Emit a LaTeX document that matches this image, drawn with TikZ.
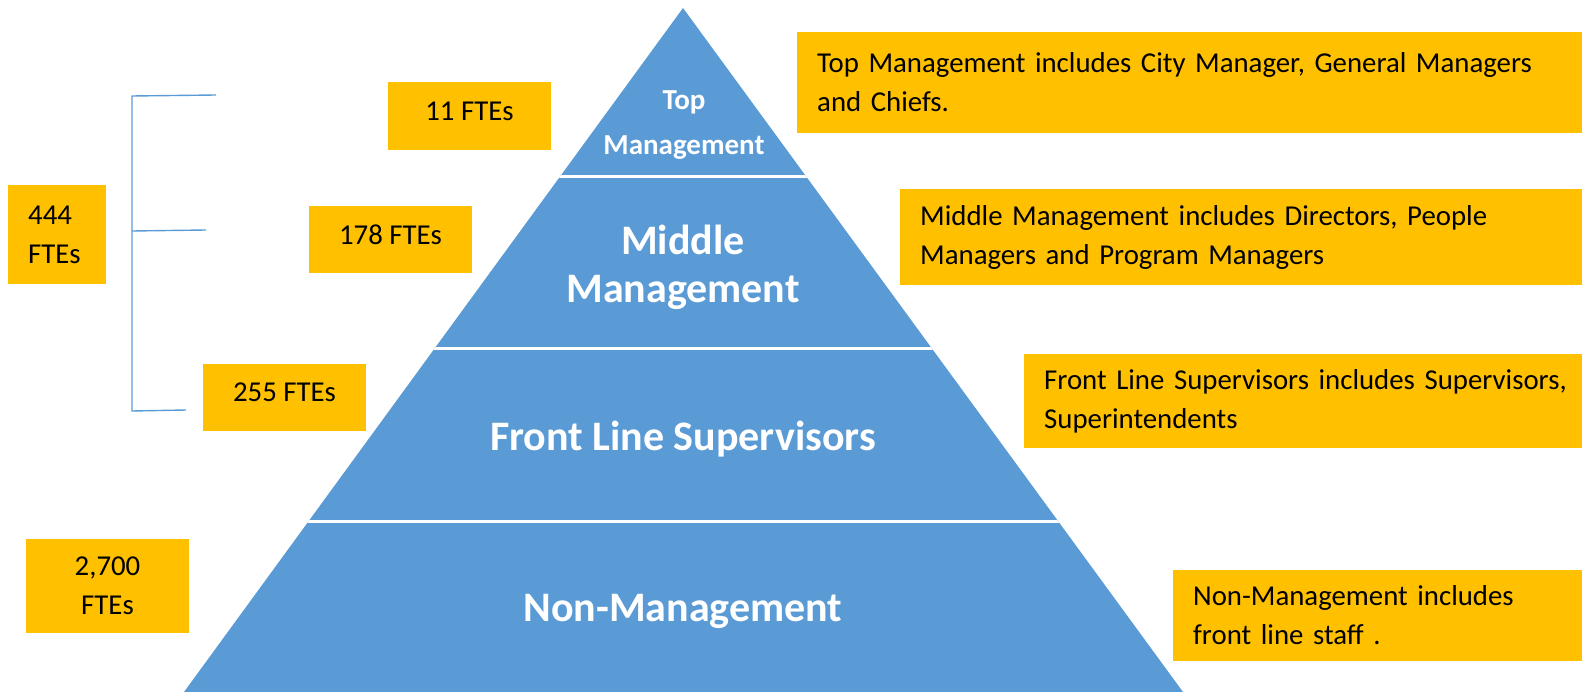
\documentclass[tikz,border=0pt]{standalone}
\usepackage{fontspec}
\setmainfont{Carlito}
\definecolor{pyrblue}{HTML}{5B9BD5}
\definecolor{boxgold}{HTML}{FFC000}

\begin{document}
\begin{tikzpicture}[x=1pt,y=-1pt,
  goldbox/.style={fill=boxgold, draw=none, inner sep=0pt, font=\fontsize{28.8}{39}\selectfont},
  ftebox/.style={goldbox, align=center, text depth=10pt},
  descbox/.style={goldbox, align=left, inner xsep=20pt, anchor=west},
  tierlabel/.style={text=white, font=\bfseries\fontsize{42}{48}\selectfont, align=center},
  bracketline/.style={draw=pyrblue, line width=1.4pt}
]
\useasboundingbox (0,0) rectangle (1585,692);

% pyramid
\coordinate (apex) at (683,8);
\coordinate (baseL) at (184,692);
\coordinate (baseR) at (1183,692);
\fill[pyrblue] (apex) -- (baseL) -- (baseR) -- cycle;
\begin{scope}
  \clip (apex) -- (baseL) -- (baseR) -- cycle;
  \draw[white, line width=3pt] (0,177) -- (1585,177);
  \draw[white, line width=3pt] (0,349) -- (1585,349);
  \draw[white, line width=3pt] (0,521) -- (1585,521);
\end{scope}

% tier labels
\node[tierlabel, font=\bfseries\fontsize{29}{45}\selectfont] (ttop) at (684,125) {Top\\Management};
\node[tierlabel] (tmid) at (683,267) {Middle\\Management};
\node[tierlabel] (tfls) at (683,439) {Front Line Supervisors};
\node[tierlabel] (tnon) at (683,611) {Non-Management};

% FTE counts
\node[ftebox, minimum width=163pt, minimum height=68pt] (f11) at (469.5,116) {11 FTEs};
\node[ftebox, minimum width=163pt, minimum height=67pt] (f178) at (390.5,239.5) {178 FTEs};
\node[ftebox, minimum width=163pt, minimum height=67pt] (f255) at (284.5,397.5) {255 FTEs};
\node[goldbox, align=left, inner xsep=20pt, anchor=west, minimum width=98pt, minimum height=99pt, text width=58pt] (f444) at (8,234.5) {444\\FTEs};
\node[goldbox, align=center, minimum width=163pt, minimum height=94pt] (f2700) at (107.5,586) {2,700\\FTEs};

% bracket grouping the management tiers
\coordinate (brTop) at (132,96);
\coordinate (brMid) at (132,231);
\coordinate (brBot) at (132,411);
\coordinate (brTopEnd) at (216,95);
\coordinate (brMidEnd) at (206,230);
\coordinate (brBotEnd) at (186,410);
\draw[bracketline] (brTopEnd) -- (brTop) -- (brBot) -- (brBotEnd);
\draw[bracketline] (brMid) -- (brMidEnd);

% tier descriptions (each line kept whole)
\node[descbox, minimum width=785pt, minimum height=101pt, text width=745pt] (dtop) at (797,82.5)
  {\mbox{Top Management includes City Manager, General Managers}\\\mbox{and Chiefs.}};
\node[descbox, minimum width=682pt, minimum height=96pt, text width=642pt] (dmid) at (900,237)
  {\mbox{Middle Management includes Directors, People}\\\mbox{Managers and Program Managers}};
\node[descbox, minimum width=558pt, minimum height=94pt, text width=518pt] (dfls) at (1024,401)
  {\mbox{Front Line Supervisors includes Supervisors,}\\\mbox{Superintendents}};
\node[descbox, minimum width=409pt, minimum height=91pt, text width=369pt] (dnon) at (1173,615.5)
  {\mbox{Non-Management includes}\\\mbox{front line staff .}};
\end{tikzpicture}
\end{document}
